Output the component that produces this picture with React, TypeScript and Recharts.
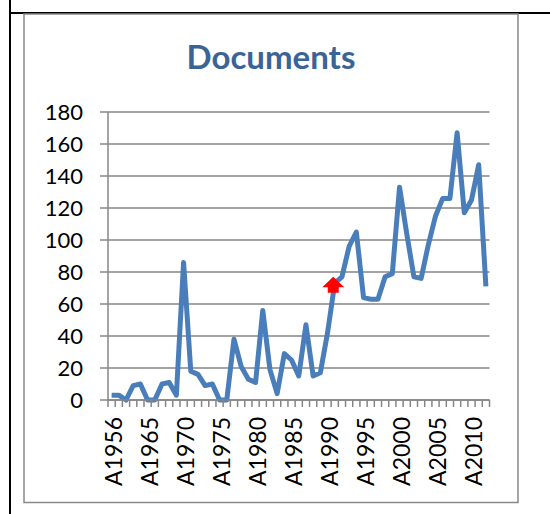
import { LineChart, Line, XAxis, YAxis, CartesianGrid } from 'recharts'

// categories (first few years are not contiguous, labels every 5th point)
const YEARS = [
  'A1956', 'A1961', 'A1962', 'A1963', 'A1964',
  'A1965', 'A1966', 'A1967', 'A1968', 'A1969',
  'A1970', 'A1971', 'A1972', 'A1973', 'A1974',
  'A1975', 'A1976', 'A1977', 'A1978', 'A1979',
  'A1980', 'A1981', 'A1982', 'A1983', 'A1984',
  'A1985', 'A1986', 'A1987', 'A1988', 'A1989',
  'A1990', 'A1991', 'A1992', 'A1993', 'A1994',
  'A1995', 'A1996', 'A1997', 'A1998', 'A1999',
  'A2000', 'A2001', 'A2002', 'A2003', 'A2004',
  'A2005', 'A2006', 'A2007', 'A2008', 'A2009',
  'A2010', 'A2011', 'A2012',
]

const DOCUMENTS = [
  3, 3, 0, 9, 10,
  0, 0, 10, 11, 3,
  86, 18, 16, 9, 10,
  0, 0, 38, 21, 13,
  11, 56, 19, 4, 29,
  25, 15, 47, 15, 17,
  42, 73, 77, 96, 105,
  64, 63, 63, 77, 79,
  133, 104, 77, 76, 97,
  115, 126, 126, 167, 117,
  125, 147, 71,
]

const Y_TICKS = [0, 20, 40, 60, 80, 100, 120, 140, 160, 180]
const HIGHLIGHT_YEAR = 'A1991'
const TITLE = 'Documents'

const data = YEARS.map((year, i) => ({ year, documents: DOCUMENTS[i] }))

const W = 550
const H = 514
const PLOT_LEFT = 108
const PLOT_RIGHT = 489.5
const PLOT_BOTTOM = 400
const STEP = (PLOT_RIGHT - PLOT_LEFT) / YEARS.length
const AXIS_GRAY = '#868686'
const FONT = 'Lato, "Open Sans", sans-serif'

const XTick = (props: any) => {
  const { x, payload } = props
  const i = payload.index
  const ty = PLOT_BOTTOM + 17
  return (
    <g>
      <line x1={x - STEP / 2} x2={x - STEP / 2} y1={PLOT_BOTTOM} y2={PLOT_BOTTOM + 7} stroke={AXIS_GRAY} strokeWidth={1.5} />
      {i === YEARS.length - 1 && (
        <line x1={x + STEP / 2} x2={x + STEP / 2} y1={PLOT_BOTTOM} y2={PLOT_BOTTOM + 7} stroke={AXIS_GRAY} strokeWidth={1.5} />
      )}
      {i % 5 === 0 && (
        <text
          x={x + 1.5}
          y={ty}
          transform={`rotate(-90 ${x + 1.5} ${ty})`}
          textAnchor="end"
          dominantBaseline="central"
          fontSize={23}
          fontFamily={FONT}
          fill="#000"
        >
          {payload.value}
        </text>
      )}
    </g>
  )
}

const ArrowDot = (props: any) => {
  const { cx, cy, payload, index } = props
  if (payload.year !== HIGHLIGHT_YEAR) return <g key={`d-${index}`} />
  const x = cx - 1.5
  const d = `M${x - 11},${cy + 4} L${x},${cy - 6.5} L${x + 11},${cy + 4} L${x + 5.5},${cy + 4} L${x + 5.5},${cy + 9.5} L${x - 5.5},${cy + 9.5} L${x - 5.5},${cy + 4} Z`
  return <path key={`d-${index}`} d={d} fill="#FF0000" />
}

export default function App() {
  return (
    <div style={{ position: 'absolute', left: 0, top: 0, width: W, height: H, background: '#fff' }}>
      <svg width={W} height={H} style={{ position: 'absolute', left: 0, top: 0 }}>
        <line x1={10} x2={10} y1={0} y2={H} stroke="#000" strokeWidth={2} />
        <line x1={9} x2={W} y1={13} y2={13} stroke="#000" strokeWidth={2} />
        <rect x={24} y={14} width={494} height={488.5} fill="#fff" stroke="#898989" strokeWidth={1.5} />
        <text x={271} y={68.5} textAnchor="middle" fontSize={33} fontWeight="bold" fontFamily={FONT} fill="#3B6496">
          {TITLE}
        </text>
      </svg>
      <div style={{ position: 'absolute', left: 0, top: 0 }}>
        <LineChart width={W} height={H} data={data} margin={{ top: 112, right: W - PLOT_RIGHT, bottom: 0, left: 0 }}>
          <CartesianGrid vertical={false} stroke={AXIS_GRAY} strokeWidth={1.3} />
          <XAxis
            dataKey="year"
            interval={0}
            height={H - PLOT_BOTTOM}
            tickLine={false}
            padding={{ left: STEP / 2, right: STEP / 2 }}
            axisLine={{ stroke: AXIS_GRAY, strokeWidth: 1.5 }}
            tick={<XTick />}
          />
          <YAxis
            width={PLOT_LEFT}
            domain={[0, 180]}
            ticks={Y_TICKS}
            interval={0}
            tickSize={8}
            tickMargin={17}
            axisLine={{ stroke: AXIS_GRAY, strokeWidth: 1.5 }}
            tickLine={{ stroke: AXIS_GRAY, strokeWidth: 1.5 }}
            tick={{ fontSize: 22, fill: '#000', fontFamily: FONT }}
          />
          <Line
            type="linear"
            dataKey="documents"
            stroke="#4A7EBB"
            strokeWidth={5}
            strokeLinejoin="round"
            dot={ArrowDot}
            activeDot={false}
            isAnimationActive={false}
          />
        </LineChart>
      </div>
    </div>
  )
}
